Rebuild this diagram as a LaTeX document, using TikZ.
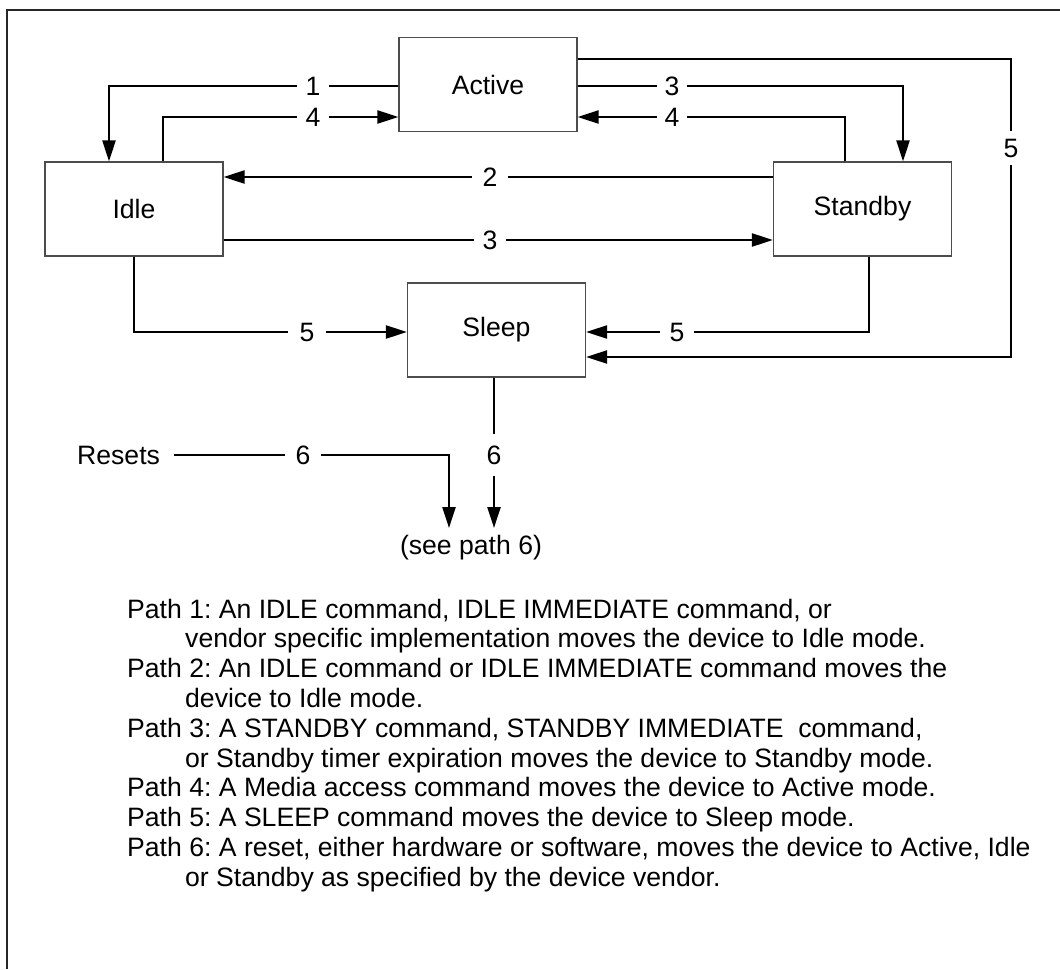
\documentclass[tikz,border=0pt]{standalone}
\usepackage{fontspec}
\setmainfont{Liberation Sans}
\usetikzlibrary{arrows.meta}
\newcommand\dgfs{\fontsize{26.6}{30}\selectfont\frenchspacing}
\begin{document}
\begin{tikzpicture}[x=1pt,y=-1pt,
  box/.style={draw=black!70, line width=1.2pt, minimum width=178pt, minimum height=94pt, inner sep=0pt, font=\dgfs},
  conn/.style={line width=2.3pt, line join=miter},
  tip/.style={-{Triangle[length=21pt,width=13pt]}},
  lab/.style={fill=white, inner xsep=9pt, inner ysep=0pt, font=\dgfs},
  vlab/.style={fill=white, inner xsep=0pt, inner ysep=8pt, font=\dgfs},
  txt/.style={anchor=base west, inner sep=0pt, font=\dgfs}]
\useasboundingbox (0,0) rectangle (1060,969);
\draw[line width=1.8pt, black!85] (1060,10) -- (7,10) -- (7,969);

% state boxes
\node[box] (act)   at (488,84.5)  {Active};
\node[box] (idle)  at (134,209)   {Idle};
\node[box] (stby)  at (862.5,209) {Standby};
\node[box] (sleep) at (496.5,330) {Sleep};

% free ends
\coordinate (e1) at (449,528);
\coordinate (e2) at (494,528);
\node[font=\dgfs, inner sep=0pt] (seep) at (471,548) {(see path 6)};
\node[font=\dgfs, anchor=west, inner sep=0pt] (rst) at (77,455) {Resets};

% connectors
\draw[conn,tip] (act.west |- 0,86) -| (idle.north -| 109,0);
\draw[conn,tip] (idle.north -| 163,0) |- (act.west |- 0,117);
\draw[conn,tip] (stby.west |- 0,177) -- (idle.east |- 0,177);
\draw[conn,tip] (idle.east |- 0,240) -- (stby.west |- 0,240);
\draw[conn,tip] (act.east |- 0,86) -| (stby.north -| 903,0);
\draw[conn,tip] (stby.north -| 845,0) |- (act.east |- 0,117);
\draw[conn,tip] (act.east |- 0,59) -| (1011,208) |- (sleep.east |- 0,357);
\draw[conn,tip] (idle.south) |- (sleep.west |- 0,332);
\draw[conn,tip] (stby.south -| 869,0) |- (sleep.east |- 0,332);
\draw[conn,tip] ([xshift=14pt]rst.east) -| (e1);
\draw[conn,tip] (sleep.south -| e2) -- (e2);

% connector labels
\node[lab] (l1)  at (313,86)  {1};
\node[lab] (l4a) at (313,117) {4};
\node[lab, inner xsep=11pt] (l2)  at (490,177) {2};
\node[lab] (l3b) at (490,240) {3};
\node[lab, inner xsep=7.5pt] (l3a) at (672,86)  {3};
\node[lab, inner xsep=8pt] (l4b) at (672,117) {4};
\node[vlab] (l5r) at (1011,148) {5};
\node[lab, inner xsep=12pt] (l5a) at (307,332) {5};
\node[lab, inner xsep=10pt] (l5b) at (677,332) {5};
\node[lab, inner xsep=11pt] (l6a) at (303,455) {6};
\node[vlab, inner ysep=12pt] (l6b) at (494,455) {6};

% legend text
\node[txt] (t1)  at (127,618)   {Path 1: An IDLE command, IDLE IMMEDIATE command, or};
\node[txt] (t2)  at (185,647.8) {vendor specific implementation moves the device to Idle mode.};
\node[txt] (t3)  at (127,677.6) {Path 2: An IDLE command or IDLE IMMEDIATE command moves the};
\node[txt] (t4)  at (185,707.4) {device to Idle mode.};
\node[txt] (t5)  at (127,737.2) {Path 3: A STANDBY command, STANDBY IMMEDIATE~ command,};
\node[txt] (t6)  at (185,767)   {or Standby timer expiration moves the device to Standby mode.};
\node[txt] (t7)  at (127,796.8) {Path 4: A Media access command moves the device to Active mode.};
\node[txt] (t8)  at (127,826.6) {Path 5: A SLEEP command moves the device to Sleep mode.};
\node[txt] (t9)  at (127,856.4) {Path 6: A reset, either hardware or software, moves the device to Active, Idle};
\node[txt] (t10) at (185,886.2) {or Standby as specified by the device vendor.};
\end{tikzpicture}
\end{document}
